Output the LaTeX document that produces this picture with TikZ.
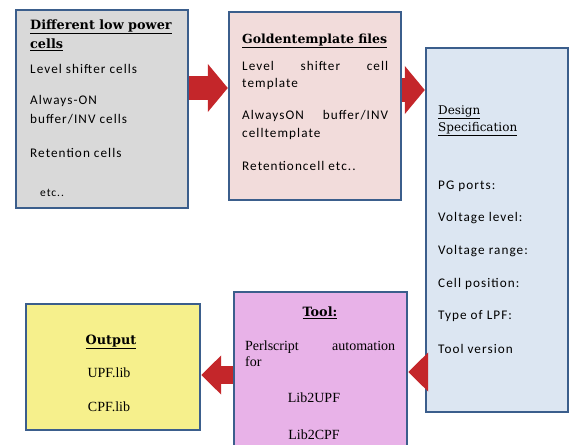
\documentclass[tikz,border=0pt]{standalone}
\usepackage{fontspec}
\setmainfont{Liberation Serif}
\newfontfamily\bodyfont[LetterSpace=8]{Carlito}
\newfontfamily\headfont{DejaVu Serif}
\usetikzlibrary{positioning,arrows.meta}
\definecolor{edgeblue}{RGB}{59,94,140}
\definecolor{boxgray}{RGB}{217,217,217}
\definecolor{boxpink}{RGB}{242,220,219}
\definecolor{boxblue}{RGB}{220,230,242}
\definecolor{boxviolet}{RGB}{232,178,232}
\definecolor{boxyellow}{RGB}{246,240,140}
\definecolor{arrowred}{RGB}{196,38,42}

\begin{document}
\begin{tikzpicture}[x=1pt, y=-1pt,
    box/.style={rectangle, draw=edgeblue, line width=2.4pt, inner sep=0pt},
    head/.style={anchor=west, inner sep=0pt, font=\headfont\fontsize{12.8}{17}\selectfont\bfseries},
    txt/.style={anchor=west, inner sep=0pt, font=\bodyfont\fontsize{13.2}{18}\selectfont},
    stxt/.style={anchor=west, inner sep=0pt, font=\fontsize{14}{14}\selectfont},
    bigarrow/.style={draw=arrowred, line width=24pt, -{Triangle[length=20pt, width=47pt]}},
    smallarrow/.style={draw=arrowred, line width=18pt, -{Triangle[length=20pt, width=38pt]}}]
    \useasboundingbox (0,0) rectangle (572,444);

    % Boxes
    \node[box, fill=boxgray, minimum width=172pt, minimum height=198pt] (cells) at (102,109) {};
    \node[box, fill=boxpink, minimum width=172pt, minimum height=188pt] (gold) at (315,106) {};
    \node[box, fill=boxblue, minimum width=142pt, minimum height=364pt] (spec) at (497,230) {};
    \node[box, fill=boxviolet, minimum width=173pt, minimum height=156pt] (tool) at (320.5,370) {};
    \node[box, fill=boxyellow, minimum width=174pt, minimum height=126pt] (out) at (113,367) {};

    % Different low power cells
    \node[head] (cellsh1) at (30,27) {\underline{Different low power}};
    \node[head] (cellsh2) at (30,45) {\underline{cells}};
    \node[txt] (cells1) at (30,69) {Level shifter cells};
    \node[txt] (cells2) at (30,101) {Always-ON};
    \node[txt] (cells3) at (30,119) {buffer/INV cells};
    \node[txt] (cells4) at (30,153) {Retention cells};
    \node[txt, font=\bodyfont\fontsize{11.5}{14}\selectfont] (cells5) at (40,193) {etc..};

    % Golden template files
    \node[head, font=\headfont\fontsize{12.5}{17}\selectfont\bfseries] (goldh) at (242,41) {\underline{Goldentemplate files}};
    \node[txt, text width=146pt] (gold1) at (242,66) {Level\hfill shifter\hfill cell};
    \node[txt] (gold2) at (242,84) {template};
    \node[txt, text width=146pt] (gold3) at (242,116) {AlwaysON\hfill buffer/INV};
    \node[txt] (gold4) at (242,134) {celltemplate};
    \node[txt] (gold5) at (242,166) {Retentioncell etc..};

    % Design specification
    \node[head, font=\headfont\fontsize{12}{17}\selectfont] (spech1) at (438,112) {\underline{Design}};
    \node[head, font=\headfont\fontsize{12}{17}\selectfont] (spech2) at (438,129) {\underline{Specification}};
    \node[txt] (spec1) at (438,186) {PG ports:};
    \node[txt] (spec2) at (438,218) {Voltage level:};
    \node[txt] (spec3) at (438,251) {Voltage range:};
    \node[txt] (spec4) at (438,284) {Cell position:};
    \node[txt] (spec5) at (438,316) {Type of LPF:};
    \node[txt] (spec6) at (438,349) {Tool version};

    % Tool
    \node[head, anchor=center] (toolh) at (320,313) {\underline{Tool:}};
    \node[stxt, text width=150pt] (tool1) at (245,347) {Perlscript\hfill automation};
    \node[stxt] (tool2) at (245,362) {for};
    \node[stxt, anchor=center] (tool3) at (314,398) {Lib2UPF};
    \node[stxt, anchor=center] (tool4) at (314,435) {Lib2CPF};

    % Output
    \node[head, anchor=center] (outh) at (111,342) {\underline{Output}};
    \node[stxt, anchor=center] (out1) at (109,373) {UPF.lib};
    \node[stxt, anchor=center] (out2) at (109,407) {CPF.lib};

    % Arrows
    \path ([yshift=21pt]cells.east) coordinate (s1);
    \path ([yshift=16pt]gold.east) coordinate (s2);
    \path ([yshift=-142pt]spec.west) coordinate (s3);
    \path ([yshift=-5pt]tool.west) coordinate (s4);
    \draw[bigarrow] (s1) -- (s1 -| gold.west);
    \draw[bigarrow] (s2) -- (s2 -| spec.west);
    \draw[smallarrow] (s3) -- (s3 -| tool.east);
    \draw[smallarrow] (s4) -- (s4 -| out.east);
\end{tikzpicture}
\end{document}
